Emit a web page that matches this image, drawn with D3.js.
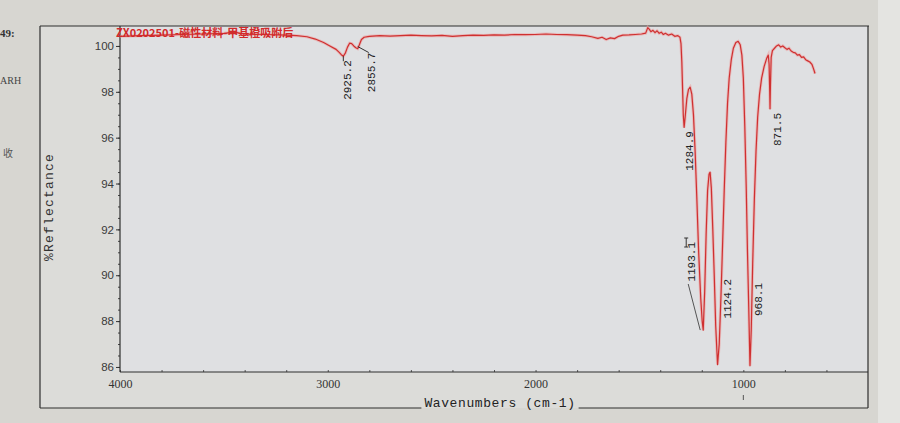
<!DOCTYPE html>
<html>
<head>
<meta charset="utf-8">
<script src="https://cdn.jsdelivr.net/npm/d3@7"></script>
<style>
  body { margin: 0; background: #d7d6d1; }
  svg { display: block; }
</style>
</head>
<body>
<script>
// spectrum
var wavenumbers = [4000,3900,3800,3700,3600,3500,3450,3400,3300,3200,3150,3100,3060,3020,2990,2960,2945,2935,2925,2915,2905,2895,2885,2875,2865,2856,2848,2838,2825,2800,2750,2700,2650,2600,2550,2500,2450,2400,2350,2300,2250,2200,2150,2100,2050,2000,1950,1900,1850,1800,1760,1730,1700,1680,1660,1640,1620,1600,1580,1550,1520,1490,1470,1460,1452,1445,1435,1425,1415,1405,1395,1385,1375,1360,1345,1330,1315,1305,1300,1296,1292,1289,1285,1280,1272,1264,1256,1248,1240,1232,1224,1215,1205,1198,1193,1186,1179,1172,1165,1160,1154,1147,1140,1133,1124,1116,1108,1100,1092,1084,1076,1068,1058,1048,1036,1025,1015,1007,1000,993,986,980,974,968,962,955,947,939,931,922,912,900,888,880,876,873,871.5,869.5,866,860,850,840,830,820,810,800,790,780,770,760,750,740,730,720,710,700,690,680,670,662,655];
var reflectance = [100.42,100.45,100.47,100.5,100.52,100.55,100.6,100.52,100.5,100.47,100.45,100.4,100.3,100.15,100.0,99.85,99.72,99.62,99.55,99.7,99.95,100.12,100.1,100.0,99.92,99.88,100.05,100.28,100.38,100.42,100.45,100.43,100.45,100.47,100.45,100.44,100.46,100.42,100.45,100.47,100.46,100.48,100.47,100.5,100.49,100.5,100.52,100.5,100.49,100.47,100.45,100.4,100.33,100.38,100.28,100.35,100.32,100.42,100.47,100.48,100.5,100.52,100.56,100.8,100.72,100.62,100.68,100.58,100.66,100.55,100.6,100.5,100.55,100.47,100.52,100.42,100.45,100.38,100.1,99.3,98.0,97.0,96.45,96.9,97.7,98.1,98.2,97.9,97.0,95.4,93.4,91.0,89.0,88.0,87.6,89.3,91.8,93.7,94.4,94.5,93.8,92.0,90.0,87.8,86.1,87.0,89.0,91.3,93.7,95.8,97.5,98.6,99.4,99.9,100.15,100.2,100.05,99.6,98.6,96.5,93.8,91.0,88.6,86.05,87.6,90.5,93.3,95.4,96.9,97.9,98.6,99.1,99.45,99.6,99.2,98.0,97.25,98.3,99.5,99.8,99.9,100.0,100.05,99.95,100.0,99.92,99.85,99.9,99.78,99.72,99.7,99.6,99.62,99.5,99.52,99.4,99.35,99.3,99.2,99.0,98.8];

var peakWn = [2925.2, 2855.7, 1284.9, 1193.1, 1124.2, 968.1, 871.5];
var peakText = ["2925.2", "2855.7", "1284.9", "1193.1", "1124.2", "968.1", "871.5"];

var yTicks = [86, 88, 90, 92, 94, 96, 98, 100];
var xTicks = [4000, 3000, 2000, 1000];
var specTitle = "ZX0202501-磁性材料-甲基橙吸附后";

var W = 900, H = 423;
var plot = {left: 120, right: 868, top: 26, bottom: 372};

var svg = d3.select("body").append("svg")
    .attr("width", W)
    .attr("height", H);

// bits of the neighbouring window on the far left
svg.append("rect").attr("x", 878).attr("y", 0).attr("width", 22).attr("height", H).attr("fill", "#e4e4e1");
svg.append("text").attr("x", 0).attr("y", 37).text("49:")
    .style("font", "bold 11px 'Liberation Serif'").attr("fill", "#333");
svg.append("text").attr("x", 0).attr("y", 84).text("ARH")
    .style("font", "10px 'Liberation Serif'").attr("fill", "#444");
svg.append("text").attr("x", 3).attr("y", 157).text("收")
    .style("font", "10px 'Noto Sans CJK SC'").attr("fill", "#555");

//Outer frame
svg.append("rect")
    .attr("x", 40).attr("y", 26)
    .attr("width", plot.right - 40).attr("height", 408 - 26)
    .attr("fill", "#dcdcd9")
    .attr("stroke", "none");

svg.append("rect")
    .attr("x", plot.left).attr("y", plot.top)
    .attr("width", plot.right - plot.left).attr("height", plot.bottom - plot.top)
    .attr("fill", "#dfe0e2");

//Scales
var xScale = d3.scaleLinear()
    .domain([4000, 400])
    .range([plot.left, plot.right]);

var yScale = d3.scaleLinear()
    .domain([85.78, 100.87])
    .range([plot.bottom, plot.top]);

//Y axis
var yAxis = d3.axisLeft(yScale)
    .tickValues(yTicks)
    .tickSize(4)
    .tickPadding(2)
    .tickFormat(d3.format("d"));

var yMinor = d3.axisLeft(yScale)
    .tickValues(d3.range(86, 100.76, 0.5))
    .tickSize(2)
    .tickFormat("");

svg.append("g")
    .attr("transform", "translate(" + plot.left + ",0)")
    .call(yMinor)
    .call(function(g) { g.select(".domain").remove(); })
    .selectAll("line").attr("stroke", "#444");

var gy = svg.append("g")
    .attr("transform", "translate(" + plot.left + ",0)")
    .call(yAxis);
gy.select(".domain").remove();
gy.selectAll("line").attr("stroke", "#333");
gy.selectAll("text")
    .style("font", "11.5px 'Liberation Sans'")
    .attr("fill", "#3a3a3a");

//X axis
var xAxis = d3.axisBottom(xScale)
    .tickValues(xTicks)
    .tickSize(0)
    .tickPadding(7)
    .tickFormat(d3.format("d"));

var xMinor = d3.axisTop(xScale)
    .tickValues(d3.range(4000, 400, -200))
    .tickSize(2)
    .tickFormat("");

svg.append("g")
    .attr("transform", "translate(0," + plot.bottom + ")")
    .call(xMinor)
    .call(function(g) { g.select(".domain").remove(); })
    .selectAll("line").attr("stroke", "#555");

var gx = svg.append("g")
    .attr("transform", "translate(0," + plot.bottom + ")")
    .call(xAxis);
gx.select(".domain").remove();
gx.selectAll("text")
    .style("font", "12px 'Liberation Serif'")
    .attr("fill", "#333");

// small cursor mark under 1000
svg.append("line")
    .attr("x1", xScale(1000)).attr("x2", xScale(1000))
    .attr("y1", 395).attr("y2", 400)
    .attr("stroke", "#555");

//Frame lines
var frame = svg.append("g").attr("stroke", "#2e2e2e").attr("stroke-width", 1.2);
frame.append("line").attr("x1", 40).attr("x2", plot.right + 1).attr("y1", plot.top).attr("y2", plot.top);
frame.append("line").attr("x1", 40).attr("x2", 40).attr("y1", plot.top).attr("y2", 408);
frame.append("line").attr("x1", plot.right).attr("x2", plot.right).attr("y1", plot.top).attr("y2", 408);
frame.append("line").attr("x1", plot.left).attr("x2", plot.left).attr("y1", plot.top).attr("y2", plot.bottom);
frame.append("line").attr("x1", plot.left).attr("x2", plot.right).attr("y1", plot.bottom).attr("y2", plot.bottom);

//X axis label sits in the bottom frame line
var xLabel = svg.append("text")
    .attr("x", 500)
    .attr("y", 407)
    .attr("text-anchor", "middle")
    .style("font", "13px 'Liberation Mono'")
    .style("letter-spacing", "0.6px")
    .attr("fill", "#222")
    .text("Wavenumbers (cm-1)");
var bb = xLabel.node().getBBox();
frame.append("line").attr("x1", 40).attr("x2", bb.x - 3).attr("y1", 408).attr("y2", 408);
frame.append("line").attr("x1", bb.x + bb.width + 3).attr("x2", plot.right).attr("y1", 408).attr("y2", 408);

//Y axis label
svg.append("text")
    .attr("transform", "translate(53,207) rotate(-90)")
    .attr("text-anchor", "middle")
    .style("font", "13px 'Liberation Mono'")
    .style("letter-spacing", "1.2px")
    .attr("fill", "#333")
    .text("%Reflectance");

//Spectrum
var spectrum = wavenumbers.map(function(w, i) { return [w, reflectance[i]]; });

var line = d3.line()
    .x(function(d) { return xScale(d[0]); })
    .y(function(d) { return yScale(d[1]); });

svg.append("path")
    .datum(spectrum)
    .attr("d", line)
    .attr("fill", "none")
    .attr("stroke", "#ec9a9a")
    .attr("stroke-width", 3)
    .attr("opacity", 0.55);

svg.append("path")
    .datum(spectrum)
    .attr("d", line)
    .attr("fill", "none")
    .attr("stroke", "#cf3030")
    .attr("stroke-width", 1.2)
    .attr("stroke-linejoin", "round");

//Spectrum title
svg.append("text")
    .attr("x", plot.left - 4)
    .attr("y", 37)
    .style("font", "bold 11px 'Noto Sans CJK SC'")
    .attr("fill", "#d22a2a")
    .text(specTitle);

//Peak labels
function valueAt(w) {
  var i = d3.bisector(function(d) { return -d; }).left(wavenumbers, -w);
  if (i <= 0) return reflectance[0];
  var w0 = wavenumbers[i - 1], w1 = wavenumbers[i];
  var t = (w - w0) / (w1 - w0);
  return reflectance[i - 1] + t * (reflectance[i] - reflectance[i - 1]);
}

// label offsets (dx from the peak, top of label; deep peaks get a fixed top)
var labelPlace = {
  "2925.2": {dx: 4, top: null, lead: "tick"},
  "2855.7": {dx: 14, top: null, lead: "slant"},
  "1284.9": {dx: 5, top: null, lead: "none"},
  "1193.1": {dx: -12, top: 242, lead: "long"},
  "1124.2": {dx: 10, top: 279, lead: "none"},
  "968.1": {dx: 9, top: 283, lead: "none"},
  "871.5": {dx: 7, top: null, lead: "none"}
};

peakWn.forEach(function(w, i) {
  var px = xScale(w), py = yScale(valueAt(w));
  var p = labelPlace[peakText[i]];
  var top = p.top == null ? py + 4 : p.top;
  var lx = px + p.dx;

  svg.append("text")
    .attr("transform", "translate(" + (lx + 3.5) + "," + top + ") rotate(-90)")
    .attr("text-anchor", "end")
    .style("font", "11px 'Liberation Mono'")
    .attr("fill", "#222")
    .text(peakText[i]);

  if (p.lead == "tick") {
    svg.append("line").attr("x1", px).attr("x2", px).attr("y1", py).attr("y2", py + 5)
      .attr("stroke", "#333");
  } else if (p.lead == "slant") {
    svg.append("line").attr("x1", px).attr("x2", lx - 3).attr("y1", py - 2).attr("y2", top)
      .attr("stroke", "#333");
  } else if (p.lead == "long") {
    // little I-bracket beside the label and the leader to the peak
    var bx = lx - 5;
    svg.append("path")
      .attr("d", "M" + (bx - 2) + "," + (top - 4) + "h4M" + bx + "," + (top - 4) + "v9M" + (bx - 2) + "," + (top + 5) + "h4")
      .attr("stroke", "#333").attr("fill", "none");
    svg.append("line").attr("x1", lx - 3).attr("x2", px - 3).attr("y1", top + 42).attr("y2", py)
      .attr("stroke", "#555");
  }
});
</script>
</body>
</html>
